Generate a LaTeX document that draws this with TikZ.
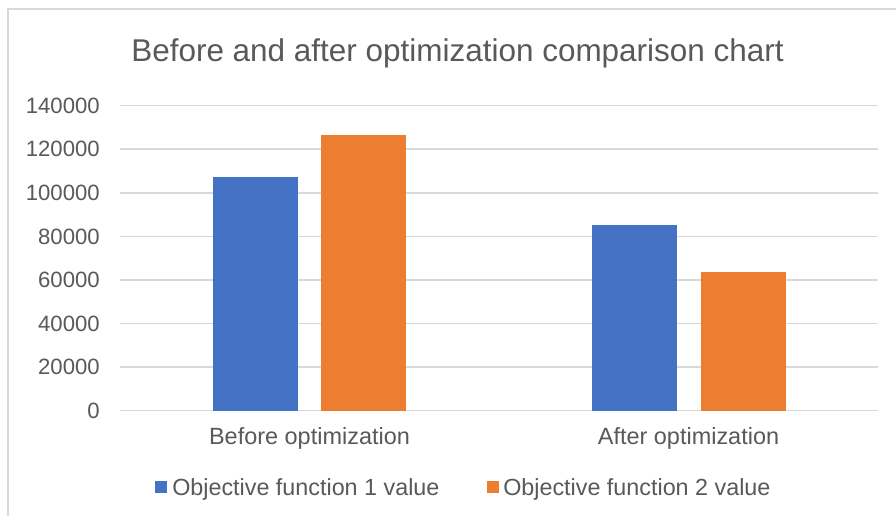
\documentclass[tikz,border=0pt]{standalone}
\usepackage{fontspec}
\setmainfont{Liberation Sans}

\definecolor{serieA}{HTML}{4472C4}
\definecolor{serieB}{HTML}{ED7D31}
\definecolor{gridgray}{HTML}{D9D9D9}
\definecolor{labelgray}{HTML}{595959}

\tikzset{
  gridline/.style={gridgray, line width=1.2pt},
  axislabel/.style={text=labelgray, font=\fontsize{16.6}{19}\selectfont, anchor=east, inner sep=0pt},
  catlabel/.style={text=labelgray, font=\fontsize{17.6}{20}\selectfont, anchor=base, inner sep=0pt},
  legendlabel/.style={text=labelgray, font=\fontsize{17.5}{20}\selectfont, anchor=base west, inner sep=0pt},
  legendkey/.style={minimum size=9pt, inner sep=0pt, draw=none},
  charttitle/.style={text=labelgray, font=\fontsize{23.6}{27}\selectfont, anchor=base, inner sep=0pt},
}

\begin{document}
\begin{tikzpicture}[x=0.75pt, y=0.75pt]
    \useasboundingbox (0,0) rectangle (896,516);
    \fill[white] (0,0) rectangle (896,516);

    % chart frame (only left and top edges are in view)
    \draw[gridgray, line width=1pt] (8,0) -- (8,507) -- (896,507);

    % title
    \node[charttitle] (title) at (457.5,454) {Before and after optimization comparison chart};

    % plot area: values in thousands
    \begin{scope}[shift={(0,105.3)}, y=1.634pt]
        % gridlines and axis labels
        \foreach \v/\lbl in {0/0, 20/20000, 40/40000, 60/60000, 80/80000, 100/100000, 120/120000, 140/140000} {
            \draw[gridline] (120,\v) -- (878,\v);
            \node[axislabel] (tick\v) at (100,\v) {\lbl};
        }
        % bars
        \fill[serieA] (213,0) rectangle (298,107.4);
        \fill[serieB] (321,0) rectangle (406,126.6);
        \fill[serieA] (592,0) rectangle (677,85.2);
        \fill[serieB] (701,0) rectangle (786,63.5);
    \end{scope}

    % category labels
    \node[catlabel] (catbefore) at (309.5,71) {Before optimization};
    \node[catlabel] (catafter) at (688.5,71) {After optimization};

    % legend
    \node[legendkey, fill=serieA] (keyA) at (161,29) {};
    \node[legendlabel] (legA) at (172,20.3) {Objective function 1 value};
    \node[legendkey, fill=serieB] (keyB) at (493,29) {};
    \node[legendlabel] (legB) at (503,20.3) {Objective function 2 value};
\end{tikzpicture}
\end{document}
